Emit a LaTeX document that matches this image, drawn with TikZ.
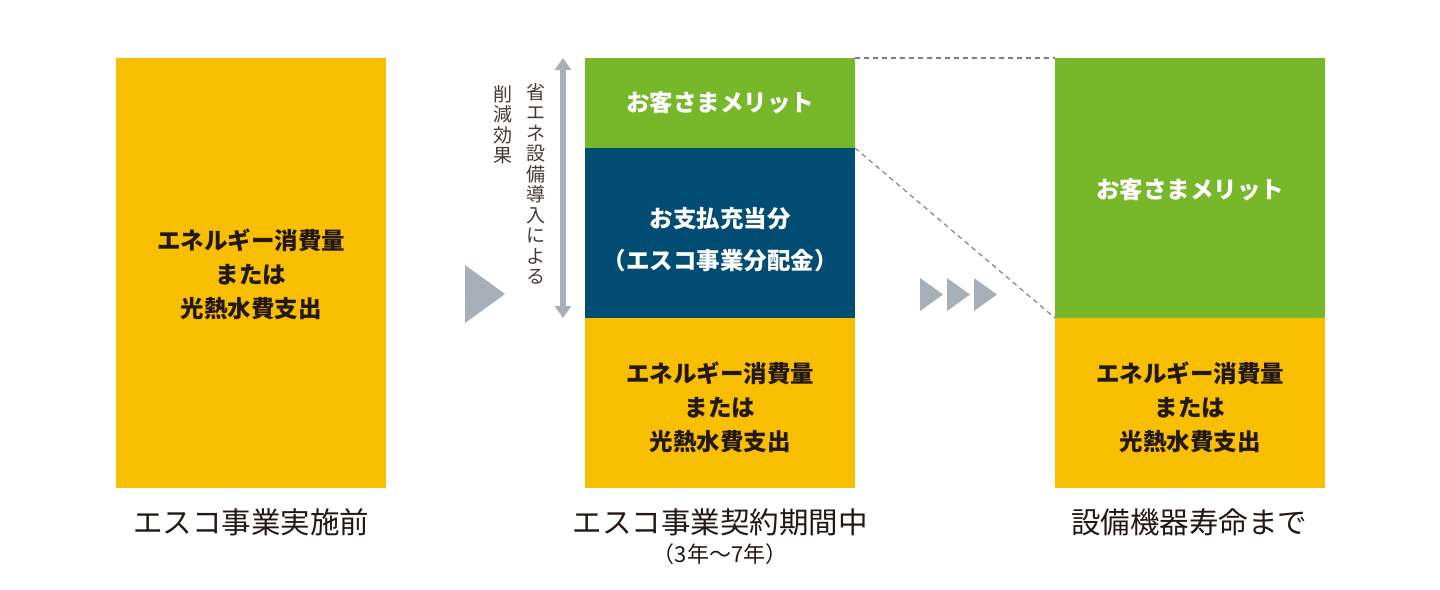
\documentclass[tikz,border=0pt]{standalone}
\usepackage{fontspec}
\usetikzlibrary{arrows.meta}
\newfontfamily\cjk{Noto Sans CJK JP}
\definecolor{escoyellow}{HTML}{F8BF00}
\definecolor{escogreen}{HTML}{76B82A}
\definecolor{esconavy}{HTML}{004C73}
\definecolor{escogray}{HTML}{A7B0B8}
\definecolor{dashgray}{HTML}{7A7F84}
\definecolor{textdark}{HTML}{231815}
\tikzset{
  block/.style={rectangle, inner sep=0pt, outer sep=0pt, draw=none, anchor=north west, minimum width=270pt},
  boxtext/.style={align=center, inner sep=0pt, font=\cjk\bfseries\fontsize{23.5}{34}\selectfont},
  darktext/.style={boxtext, text=textdark},
  lighttext/.style={boxtext, text=white},
  captext/.style={inner sep=0pt, text=textdark, font=\cjk\fontsize{29.5}{32}\selectfont},
  subcap/.style={inner sep=0pt, text=textdark, font=\cjk\fontsize{22}{24}\selectfont},
  vtext/.style={inner sep=0pt, align=center, anchor=north, text=textdark!85, font=\cjk\fontsize{19}{20.5}\selectfont},
  guide/.style={dashgray, line width=1.1pt, dash pattern=on 5pt off 4pt},
  span/.style={escogray, line width=5.5pt, {Triangle[width=16pt,length=12pt]}-{Triangle[width=16pt,length=12pt]}},
  playmark/.style={fill=escogray, draw=none}
}
\begin{document}
\begin{tikzpicture}[x=1pt,y=-1pt]
\useasboundingbox (0,0) rectangle (1440,589);
% left column
\node[block, fill=escoyellow, minimum height=430pt] (ly) at (116,58) {};
\node[darktext] (lyt) at ([yshift=-1pt]ly.center) {エネルギー消費量\\または\\光熱水費支出};
% middle column
\node[block, fill=escogreen, minimum height=90pt] (mg) at (585,58) {};
\node[block, fill=esconavy, minimum height=170pt] (mn) at (585,148) {};
\node[block, fill=escoyellow, minimum height=170pt] (my) at (585,318) {};
\node[lighttext] (mgt) at (mg.center) {お客さまメリット};
\node[lighttext, font=\cjk\bfseries\fontsize{23.5}{42}\selectfont] (mnt) at ([yshift=-7pt]mn.center) {お支払充当分\\（エスコ事業分配金）};
\node[darktext] (myt) at ([yshift=-4pt]my.center) {エネルギー消費量\\または\\光熱水費支出};
% right column
\node[block, fill=escogreen, minimum height=260pt] (rg) at (1055,58) {};
\node[block, fill=escoyellow, minimum height=170pt] (ry) at (1055,318) {};
\node[lighttext] (rgt) at ([yshift=-2pt]rg.center) {お客さまメリット};
\node[darktext] (ryt) at ([yshift=-4pt]ry.center) {エネルギー消費量\\または\\光熱水費支出};
% dashed guides
\draw[guide] (mg.north east) -- (rg.north west);
\draw[guide] (mn.north east) -- (ry.north west);
% vertical span arrow
\coordinate (vtop) at (563,58);
\coordinate (vbot) at (563,318);
\draw[span] (vtop) -- (vbot);
\node[vtext] (v1) at (536,83) {省\\エ\\ネ\\設\\備\\導\\入\\に\\よ\\る};
\node[vtext] (v2) at (503,85) {削\\減\\効\\果};
% triangles
\fill[playmark] (465,265) -- (505,294) -- (465,323) -- cycle;
\fill[playmark] (920,278) -- (943,294.5) -- (920,311) -- cycle;
\fill[playmark] (947,278) -- (970,294.5) -- (947,311) -- cycle;
\fill[playmark] (974,278) -- (997,294.5) -- (974,311) -- cycle;
% captions
\node[captext] (c1) at (251,522) {エスコ事業実施前};
\node[captext] (c2) at (720,522) {エスコ事業契約期間中};
\node[subcap] (c2b) at (720,554) {（3年～7年）};
\node[captext] (c3) at (1189,522) {設備機器寿命まで};
\end{tikzpicture}
\end{document}
